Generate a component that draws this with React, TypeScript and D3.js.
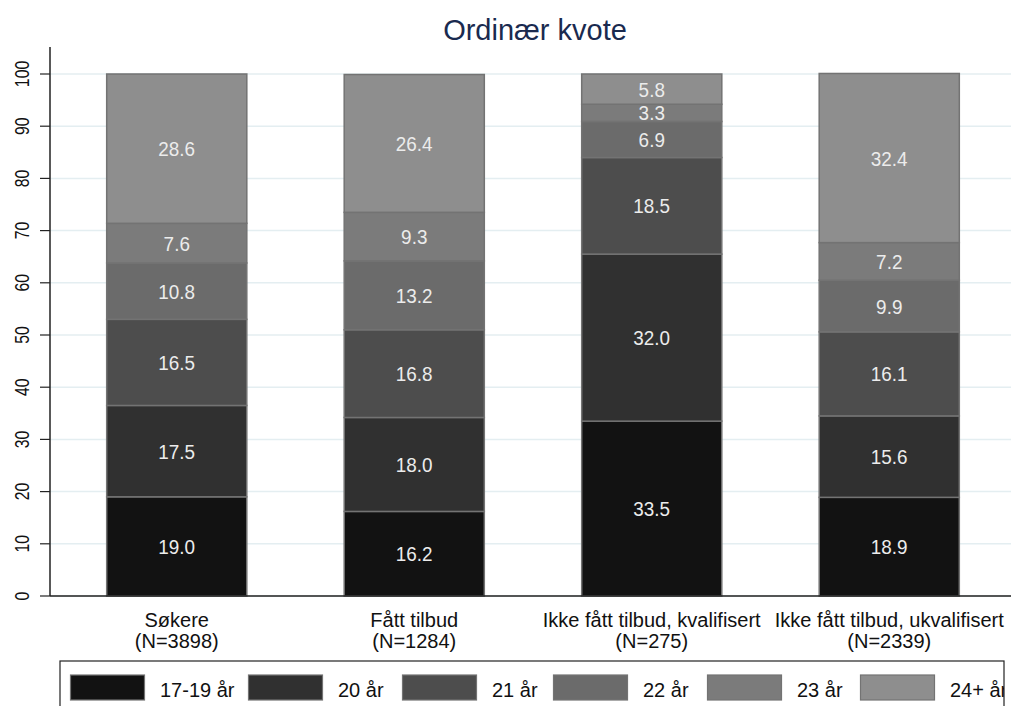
import React from "react";
import * as d3 from "d3";

const categories = ["Søkere", "Fått tilbud", "Ikke fått tilbud, kvalifisert", "Ikke fått tilbud, ukvalifisert"];
const nLabels = ["(N=3898)", "(N=1284)", "(N=275)", "(N=2339)"];
const seriesNames = ["17-19 år", "20 år", "21 år", "22 år", "23 år", "24+ år"];
const v1719 = [19.0, 16.2, 33.5, 18.9];
const v20 = [17.5, 18.0, 32.0, 15.6];
const v21 = [16.5, 16.8, 18.5, 16.1];
const v22 = [10.8, 13.2, 6.9, 9.9];
const v23 = [7.6, 9.3, 3.3, 7.2];
const v24 = [28.6, 26.4, 5.8, 32.4];
const yTicks = [0, 10, 20, 30, 40, 50, 60, 70, 80, 90, 100];
const colors = ["#121212", "#303030", "#4d4d4d", "#6b6b6b", "#7b7b7b", "#8e8e8e"];

const series = [v1719, v20, v21, v22, v23, v24];
const legendX = [70, 248, 402, 553, 707, 860];

export default function App() {
  const W = 1011, H = 706;
  const x = d3.scaleBand<string>().domain(categories).range([58, 1008]).paddingInner(0.41).paddingOuter(0.205);
  const y = d3.scaleLinear().domain([0, 100]).range([596, 74]);
  const font = "'Liberation Sans', Arial, sans-serif";

  const segs: any[] = [];
  categories.forEach((c, ci) => {
    let acc = 0;
    series.forEach((s, si) => {
      const v = s[ci];
      segs.push({ c, si, y0: acc, y1: acc + v, v });
      acc += v;
    });
  });

  return (
    <div style={{ position: "absolute", left: 0, top: 0 }}>
      <svg width={W} height={H} style={{ display: "block", fontFamily: font }}>
        <rect x={0} y={0} width={W} height={H} fill="#fff" />
        <text x={535} y={40} textAnchor="middle" fontSize={29} fill="#1a2a4f">Ordinær kvote</text>
        {yTicks.map((t) => (
          <g key={t}>
            <line x1={50} x2={W} y1={y(t)} y2={y(t)} stroke="#e4eef1" strokeWidth={1.5} />
            <line x1={40} x2={50} y1={y(t)} y2={y(t)} stroke="#222" strokeWidth={1.2} />
            <text transform={`translate(29,${y(t)}) rotate(-90) scale(0.75,1)`} textAnchor="middle" fontSize={21} fill="#111">{t}</text>
          </g>
        ))}
        {segs.map((d, i) => (
          <rect key={i} x={x(d.c)!} width={x.bandwidth()} y={y(d.y1)} height={y(d.y0) - y(d.y1)}
            fill={colors[d.si]} stroke="#737373" strokeWidth={1.5} />
        ))}
        {segs.map((d, i) => (
          <text key={"t" + i} transform={`translate(${x(d.c)! + x.bandwidth() / 2},${(y(d.y0) + y(d.y1)) / 2 + 7.5}) scale(0.9,1)`}
            textAnchor="middle" fontSize={21} fill="#ececec">{d.v.toFixed(1)}</text>
        ))}
        <line x1={50} x2={50} y1={47} y2={596} stroke="#222" strokeWidth={1.5} />
        <line x1={50} x2={W} y1={596} y2={596} stroke="#222" strokeWidth={1.5} />
        {categories.map((c, i) => (
          <g key={c}>
            <text x={x(c)! + x.bandwidth() / 2} y={627} textAnchor="middle" fontSize={20} fill="#111">{c}</text>
            <text x={x(c)! + x.bandwidth() / 2} y={648} textAnchor="middle" fontSize={20} fill="#111">{nLabels[i]}</text>
          </g>
        ))}
        <defs>
          <clipPath id="legclip"><rect x={60} y={660} width={944} height={60} /></clipPath>
        </defs>
        <rect x={60} y={661} width={944} height={60} fill="#fff" stroke="#222" strokeWidth={1.2} />
        <g clipPath="url(#legclip)">
          {seriesNames.map((n, i) => (
            <g key={n}>
              <rect x={legendX[i] + 0.5} y={675} width={74} height={25} fill={colors[i]} stroke="#737373" strokeWidth={1.2} />
              <text x={legendX[i] + 90} y={697} fontSize={20} fill="#111">{n}</text>
            </g>
          ))}
        </g>
      </svg>
    </div>
  );
}
